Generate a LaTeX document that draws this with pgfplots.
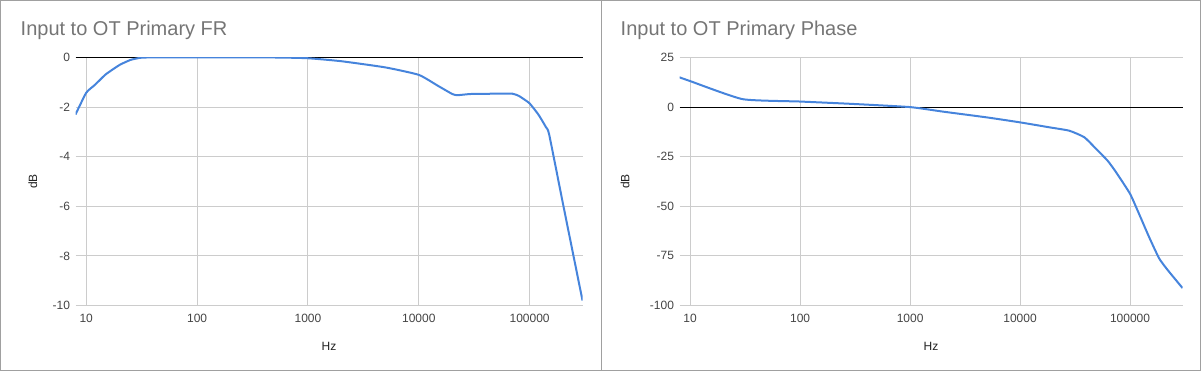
\documentclass[border=0pt]{standalone}
\usepackage{pgfplots}
\pgfplotsset{compat=1.18}
\usepackage{fontspec}
\setmainfont{Liberation Sans}
\definecolor{linec}{RGB}{70,132,220}
\definecolor{gridc}{RGB}{204,204,204}
\definecolor{tickc}{RGB}{68,68,68}
\definecolor{titlec}{RGB}{117,117,117}
\definecolor{framec}{RGB}{160,160,160}
\definecolor{labc}{RGB}{34,34,34}

\pgfplotstableread{
f db
8 -2.3
10 -1.42
12 -1.1
15 -0.68
20 -0.3
25 -0.1
30 -0.02
35 0
100 0
500 0
1000 -0.03
2000 -0.15
5000 -0.4
10000 -0.7
15000 -1.15
20000 -1.47
22000 -1.52
25000 -1.5
30000 -1.47
50000 -1.46
70000 -1.46
80000 -1.55
90000 -1.7
100000 -1.85
120000 -2.3
140000 -2.8
150000 -3.1
200000 -5.9
300000 -9.8
}\frdata

\pgfplotstableread{
f ph
8 15
10 13.1
30 4
100 2.8
300 1.6
1000 0
2000 -2.3
5000 -5.2
10000 -7.7
18500 -10.2
28000 -11.9
38400 -15.2
49000 -21
62500 -27
74600 -32.8
100000 -43.7
120700 -53.8
149000 -65.5
183700 -76.2
219000 -82
300000 -91.2
}\phdata

\begin{document}
\begin{tikzpicture}[x=1pt,y=1pt]
\useasboundingbox (0,0) rectangle (1201,371);
\draw[framec, line width=1pt] (0.5,0.5) rectangle (1200.5,370.5);
\draw[framec, line width=1pt] (601,0) -- (601,371);

\begin{semilogxaxis}[scale only axis, anchor=south west,
  at={(75.5pt,65.5pt)}, width=507pt, height=248pt,
  axis line style={draw=none}, tick style={draw=none},
  grid=major, grid style={gridc, line width=1pt},
  xmin=8, xmax=300000,
  xtick={10,100,1000,10000,100000},
  xticklabels={10,100,1000,10000,100000},
  ticklabel style={font=\fontsize{12}{14}\selectfont, text=tickc},
  xticklabel style={yshift=-5pt},
  yticklabel style={xshift=-2pt},
  /pgf/number format/assume math mode=true,
  xlabel={Hz}, ylabel={dB},
  label style={font=\fontsize{12}{14}\selectfont, text=labc},
  extra y ticks={0}, extra y tick labels={},
  extra y tick style={grid style={black, line width=1pt}},
  ymin=-10, ymax=0, ytick={-10,-8,-6,-4,-2,0},
  xlabel style={at={(rel axis cs:0.5,-0.165)}, anchor=center},
  ylabel style={at={(rel axis cs:-0.084,0.5)}, anchor=center},
]
\addplot[linec, line width=2pt, smooth, tension=0.3] table[x=f, y=db] {\frdata};
\end{semilogxaxis}
\node[anchor=base west, inner sep=0pt, text=titlec, font=\fontsize{20}{24}\selectfont] at (20.5,335) {Input to OT Primary FR};

\begin{semilogxaxis}[scale only axis, anchor=south west,
  at={(679.5pt,65.5pt)}, width=503pt, height=248pt,
  axis line style={draw=none}, tick style={draw=none},
  grid=major, grid style={gridc, line width=1pt},
  xmin=8, xmax=300000,
  xtick={10,100,1000,10000,100000},
  xticklabels={10,100,1000,10000,100000},
  ticklabel style={font=\fontsize{12}{14}\selectfont, text=tickc},
  xticklabel style={yshift=-5pt},
  yticklabel style={xshift=-2pt},
  /pgf/number format/assume math mode=true,
  xlabel={Hz}, ylabel={dB},
  label style={font=\fontsize{12}{14}\selectfont, text=labc},
  extra y ticks={0}, extra y tick labels={},
  extra y tick style={grid style={black, line width=1pt}},
  ymin=-100, ymax=25, ytick={-100,-75,-50,-25,0,25},
  xlabel style={at={(rel axis cs:0.5,-0.165)}, anchor=center},
  ylabel style={at={(rel axis cs:-0.108,0.5)}, anchor=center},
]
\addplot[linec, line width=2pt, smooth, tension=0.3] table[x=f, y=ph] {\phdata};
\end{semilogxaxis}
\node[anchor=base west, inner sep=0pt, text=titlec, font=\fontsize{20}{24}\selectfont] at (620.5,335) {Input to OT Primary Phase};
\end{tikzpicture}
\end{document}
